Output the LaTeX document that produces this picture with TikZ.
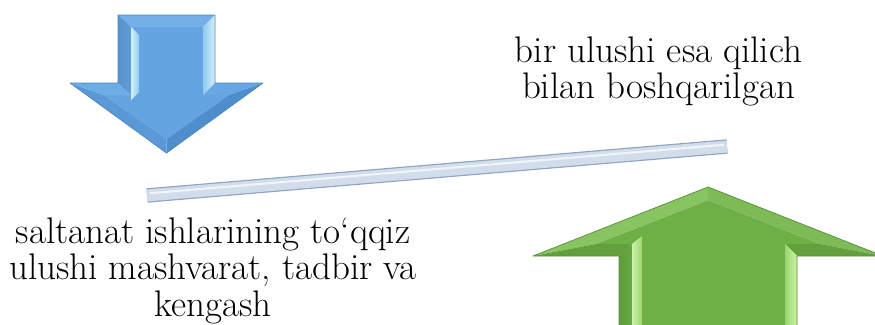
\documentclass[tikz,border=0pt]{standalone}
\usepackage{fontspec}
\usetikzlibrary{calc}
\begin{document}
\begin{tikzpicture}[x=1pt,y=-1pt,
  txt/.style={inner sep=0pt,align=center,font=\fontsize{37}{36.5}\selectfont,text=black},
  barline/.style={draw=barEdge,line width=1.2pt,double=barFill,double distance=12pt}]
\definecolor{bFace}{HTML}{64A4E1}
\definecolor{bBand}{HTML}{5E9DD9}
\definecolor{bTop}{HTML}{74AFE8}
\definecolor{bHi}{HTML}{D2F1FC}
\definecolor{bHi2}{HTML}{8FCBF1}
\definecolor{bShL}{HTML}{6EACE5}
\definecolor{bShR}{HTML}{68A7E3}
\definecolor{bDgL}{HTML}{5A99D5}
\definecolor{bDgR}{HTML}{4F8ECC}
\definecolor{bEdge}{HTML}{4A86C0}
\definecolor{gFace}{HTML}{6EAF46}
\definecolor{gBand}{HTML}{67A841}
\definecolor{gDgL}{HTML}{88C562}
\definecolor{gDgR}{HTML}{7CBB56}
\definecolor{gUnd}{HTML}{62A03C}
\definecolor{gHi}{HTML}{CCF3A6}
\definecolor{gHi2}{HTML}{9AD66F}
\definecolor{gEdge}{HTML}{568F37}
\definecolor{barFill}{HTML}{D2DDEC}
\definecolor{barEdge}{HTML}{8FA3BF}
\useasboundingbox (0,0) rectangle (875,324);
% ---------- blue arrow (down) ----------
\coordinate (bA) at (118,15);  \coordinate (bA2) at (131,27);
\coordinate (bB) at (215,15);  \coordinate (bB2) at (203,27);
\coordinate (bC) at (215,83);  \coordinate (bC2) at (203,95);
\coordinate (bD) at (263,83);  \coordinate (bD2) at (229,95);
\coordinate (bE) at (166.5,153); \coordinate (bE2) at (166.5,139);
\coordinate (bF) at (70,83);   \coordinate (bF2) at (104,95);
\coordinate (bG) at (118,83);  \coordinate (bG2) at (131,95);
\fill[bFace] (bA2)--(bB2)--(bC2)--(bD2)--(bE2)--(bF2)--(bG2)--cycle;
\fill[bTop] (bA)--(bB)--(bB2)--(bA2)--cycle;
\shade[left color=bHi2,right color=bHi] (bB)--(bC)--(bC2)--(bB2)--cycle;
\fill[bShR] (bC)--(bD)--(bD2)--(bC2)--cycle;
\fill[bDgR] (bD)--(bE)--(bE2)--(bD2)--cycle;
\fill[bDgL] (bE)--(bF)--(bF2)--(bE2)--cycle;
\fill[bShL] (bF)--(bG)--(bG2)--(bF2)--cycle;
\shade[left color=bBand!93!black,right color=bBand] (bG)--(bA)--(bA2)--(bG2)--cycle;
\shade[left color=bHi,right color=bHi2] (131,27)--(139,35)--(139,92)--(131,100)--cycle;
\draw[bEdge,line width=0.7pt,line join=round] (bA)--(bB)--(bC)--(bD)--(bE)--(bF)--(bG)--cycle;
% ---------- green arrow (up) ----------
\coordinate (gT) at (708,187);   \coordinate (gT2) at (708,200);
\coordinate (gR) at (883,256);   \coordinate (gR2) at (820,244);
\coordinate (gSR) at (797,256);  \coordinate (gSR2) at (785,244);
\coordinate (gBR) at (797,340);  \coordinate (gBR2) at (785,340);
\coordinate (gBL) at (619,340);  \coordinate (gBL2) at (632,340);
\coordinate (gSL) at (619,256);  \coordinate (gSL2) at (632,244);
\coordinate (gL) at (533,256);   \coordinate (gL2) at (596,244);
\fill[gFace] (gT2)--(gR2)--(gSR2)--(gBR2)--(gBL2)--(gSL2)--(gL2)--cycle;
\fill[gDgR] (gR)--(gT)--(gT2)--(gR2)--cycle;
\fill[gDgL] (gT)--(gL)--(gL2)--(gT2)--cycle;
\fill[gUnd] (gL)--(gSL)--(gSL2)--(gL2)--cycle;
\fill[gUnd] (gSR)--(gR)--(gR2)--(gSR2)--cycle;
\shade[left color=gBand!93!black,right color=gBand] (gSL)--(gBL)--(gBL2)--(gSL2)--cycle;
\shade[left color=gHi,right color=gHi2] (632,244)--(642,236)--(642,340)--(632,340)--cycle;
\shade[left color=gHi2,right color=gHi] (gBR)--(gSR)--(gSR2)--(gBR2)--cycle;
\draw[gEdge,line width=0.7pt,line join=round] (gT)--(gR)--(gSR)--(gBR)--(gBL)--(gSL)--(gL)--cycle;
% ---------- bar ----------
\coordinate (barL) at (147,195.5);
\coordinate (barR) at (727,146.5);
\draw[barline] (barL)--(barR);
\draw[white!70!barFill,line width=2pt,shorten <=3pt,shorten >=3pt] ($(barL)+(0,-2)$)--($(barR)+(0,-2)$);
% ---------- texts ----------
\node[txt,anchor=north] (left) at (213,217.5) {saltanat ishlarining to‘qqiz\\ulushi mashvarat, tadbir va\\kengash};
\node[txt,anchor=north] (right) at (658.5,36.5) {bir ulushi esa qilich\\bilan boshqarilgan};
\end{tikzpicture}
\end{document}
